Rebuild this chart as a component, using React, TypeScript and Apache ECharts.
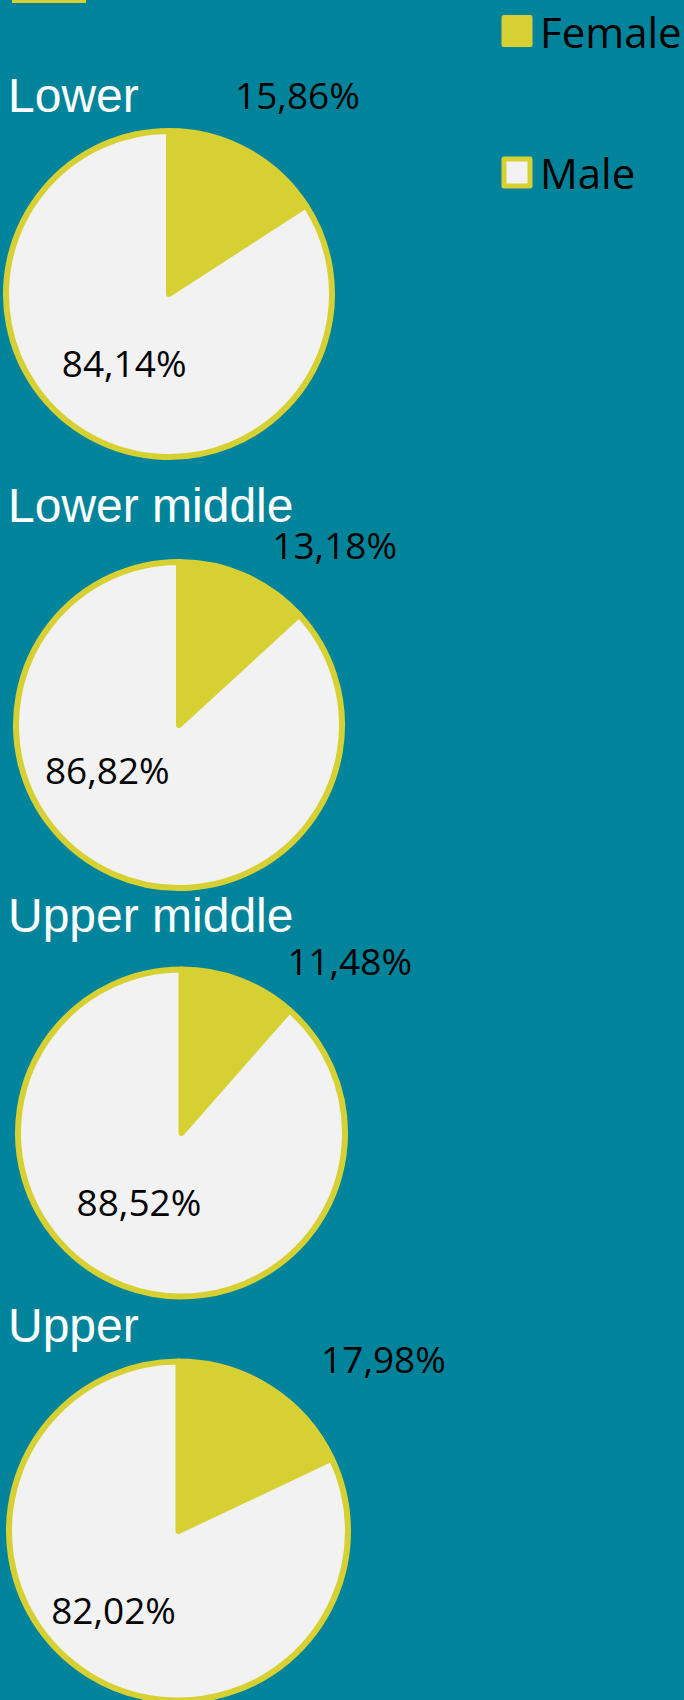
import React, { useEffect, useRef } from "react";
import * as echarts from "echarts";

// ---- data ----
const groups = ["Lower", "Lower middle", "Upper middle", "Upper"];
const seriesNames = ["Female", "Male"];
const female = [15.86, 13.18, 11.48, 17.98];
const male = [84.14, 86.82, 88.52, 82.02];

// ---- style / layout ----
const TEAL = "#00849B";
const YELLOW = "#D7D033";
const LIGHT = "#F2F2F2";

const pieCenters: [number, number][] = [
  [169, 294],
  [179, 725],
  [181.5, 1133],
  [178.5, 1531],
];
const pieRadii = [163, 163, 163.5, 169.5];
const titleTops = [71.4, 481.4, 891.4, 1301.4];
// label nudges from the library's default "inside" label position: [female, male]
const labelShift: [number, number][][] = [
  [[88, -125], [-4.5, -5.6]],
  [[121.7, -102.9], [-37.7, -33.1]],
  [[138.2, -93], [-12.7, -11]],
  [[158, -98.4], [-18, 4]],
];

const fmt = (p: any) => `${Number(p.value).toFixed(2).replace(".", ",")}%`;

export default function App() {
  const ref = useRef<HTMLDivElement>(null);

  useEffect(() => {
    document.body.style.margin = "0";
    document.body.style.background = TEAL;
    if (!ref.current) return;
    const chart = echarts.init(ref.current, undefined, { renderer: "svg" });

    const series = groups.map((g, i) => ({
      type: "pie",
      name: g,
      center: pieCenters[i],
      radius: pieRadii[i],
      startAngle: 90,
      clockwise: true,
      avoidLabelOverlap: false,
      silent: true,
      emphasis: { disabled: true },
      itemStyle: { borderColor: YELLOW, borderWidth: 6, borderJoin: "round" },
      label: {
        show: true,
        position: "inside",
        formatter: fmt,
        fontFamily: "Open Sans",
        fontSize: 37,
        color: "#000",
      },
      labelLine: { show: false },
      labelLayout: (p: any) => ({
        dx: labelShift[i][p.dataIndex][0],
        dy: labelShift[i][p.dataIndex][1],
      }),
      data: [
        { name: seriesNames[0], value: female[i], itemStyle: { color: YELLOW } },
        { name: seriesNames[1], value: male[i], itemStyle: { color: LIGHT } },
      ],
    }));

    chart.setOption({
      animation: false,
      backgroundColor: TEAL,
      title: groups.map((g, i) => ({
        text: g,
        left: 8,
        top: titleTops[i],
        padding: 0,
        textStyle: {
          color: "#FFFFFF",
          fontFamily: "Liberation Sans",
          fontSize: 48,
          fontWeight: "normal",
        },
      })),
      legend: {
        orient: "vertical",
        left: 501.5,
        top: 10,
        padding: 0,
        itemWidth: 26,
        itemHeight: 27,
        itemGap: 99.5,
        icon: "rect",
        selectedMode: false,
        data: seriesNames,
        itemStyle: { borderColor: YELLOW, borderWidth: 5 },
        textStyle: {
          fontFamily: "Open Sans",
          fontSize: 42,
          color: "#000",
          lineHeight: 27,
          padding: [0, 0, 0, 5],
        },
      },
      graphic: [
        {
          type: "rect",
          shape: { x: 12, y: 0, width: 74, height: 3 },
          style: { fill: YELLOW },
          silent: true,
        },
      ],
      series,
    });

    return () => chart.dispose();
  }, []);

  return <div ref={ref} style={{ width: 684, height: 1700 }} />;
}
